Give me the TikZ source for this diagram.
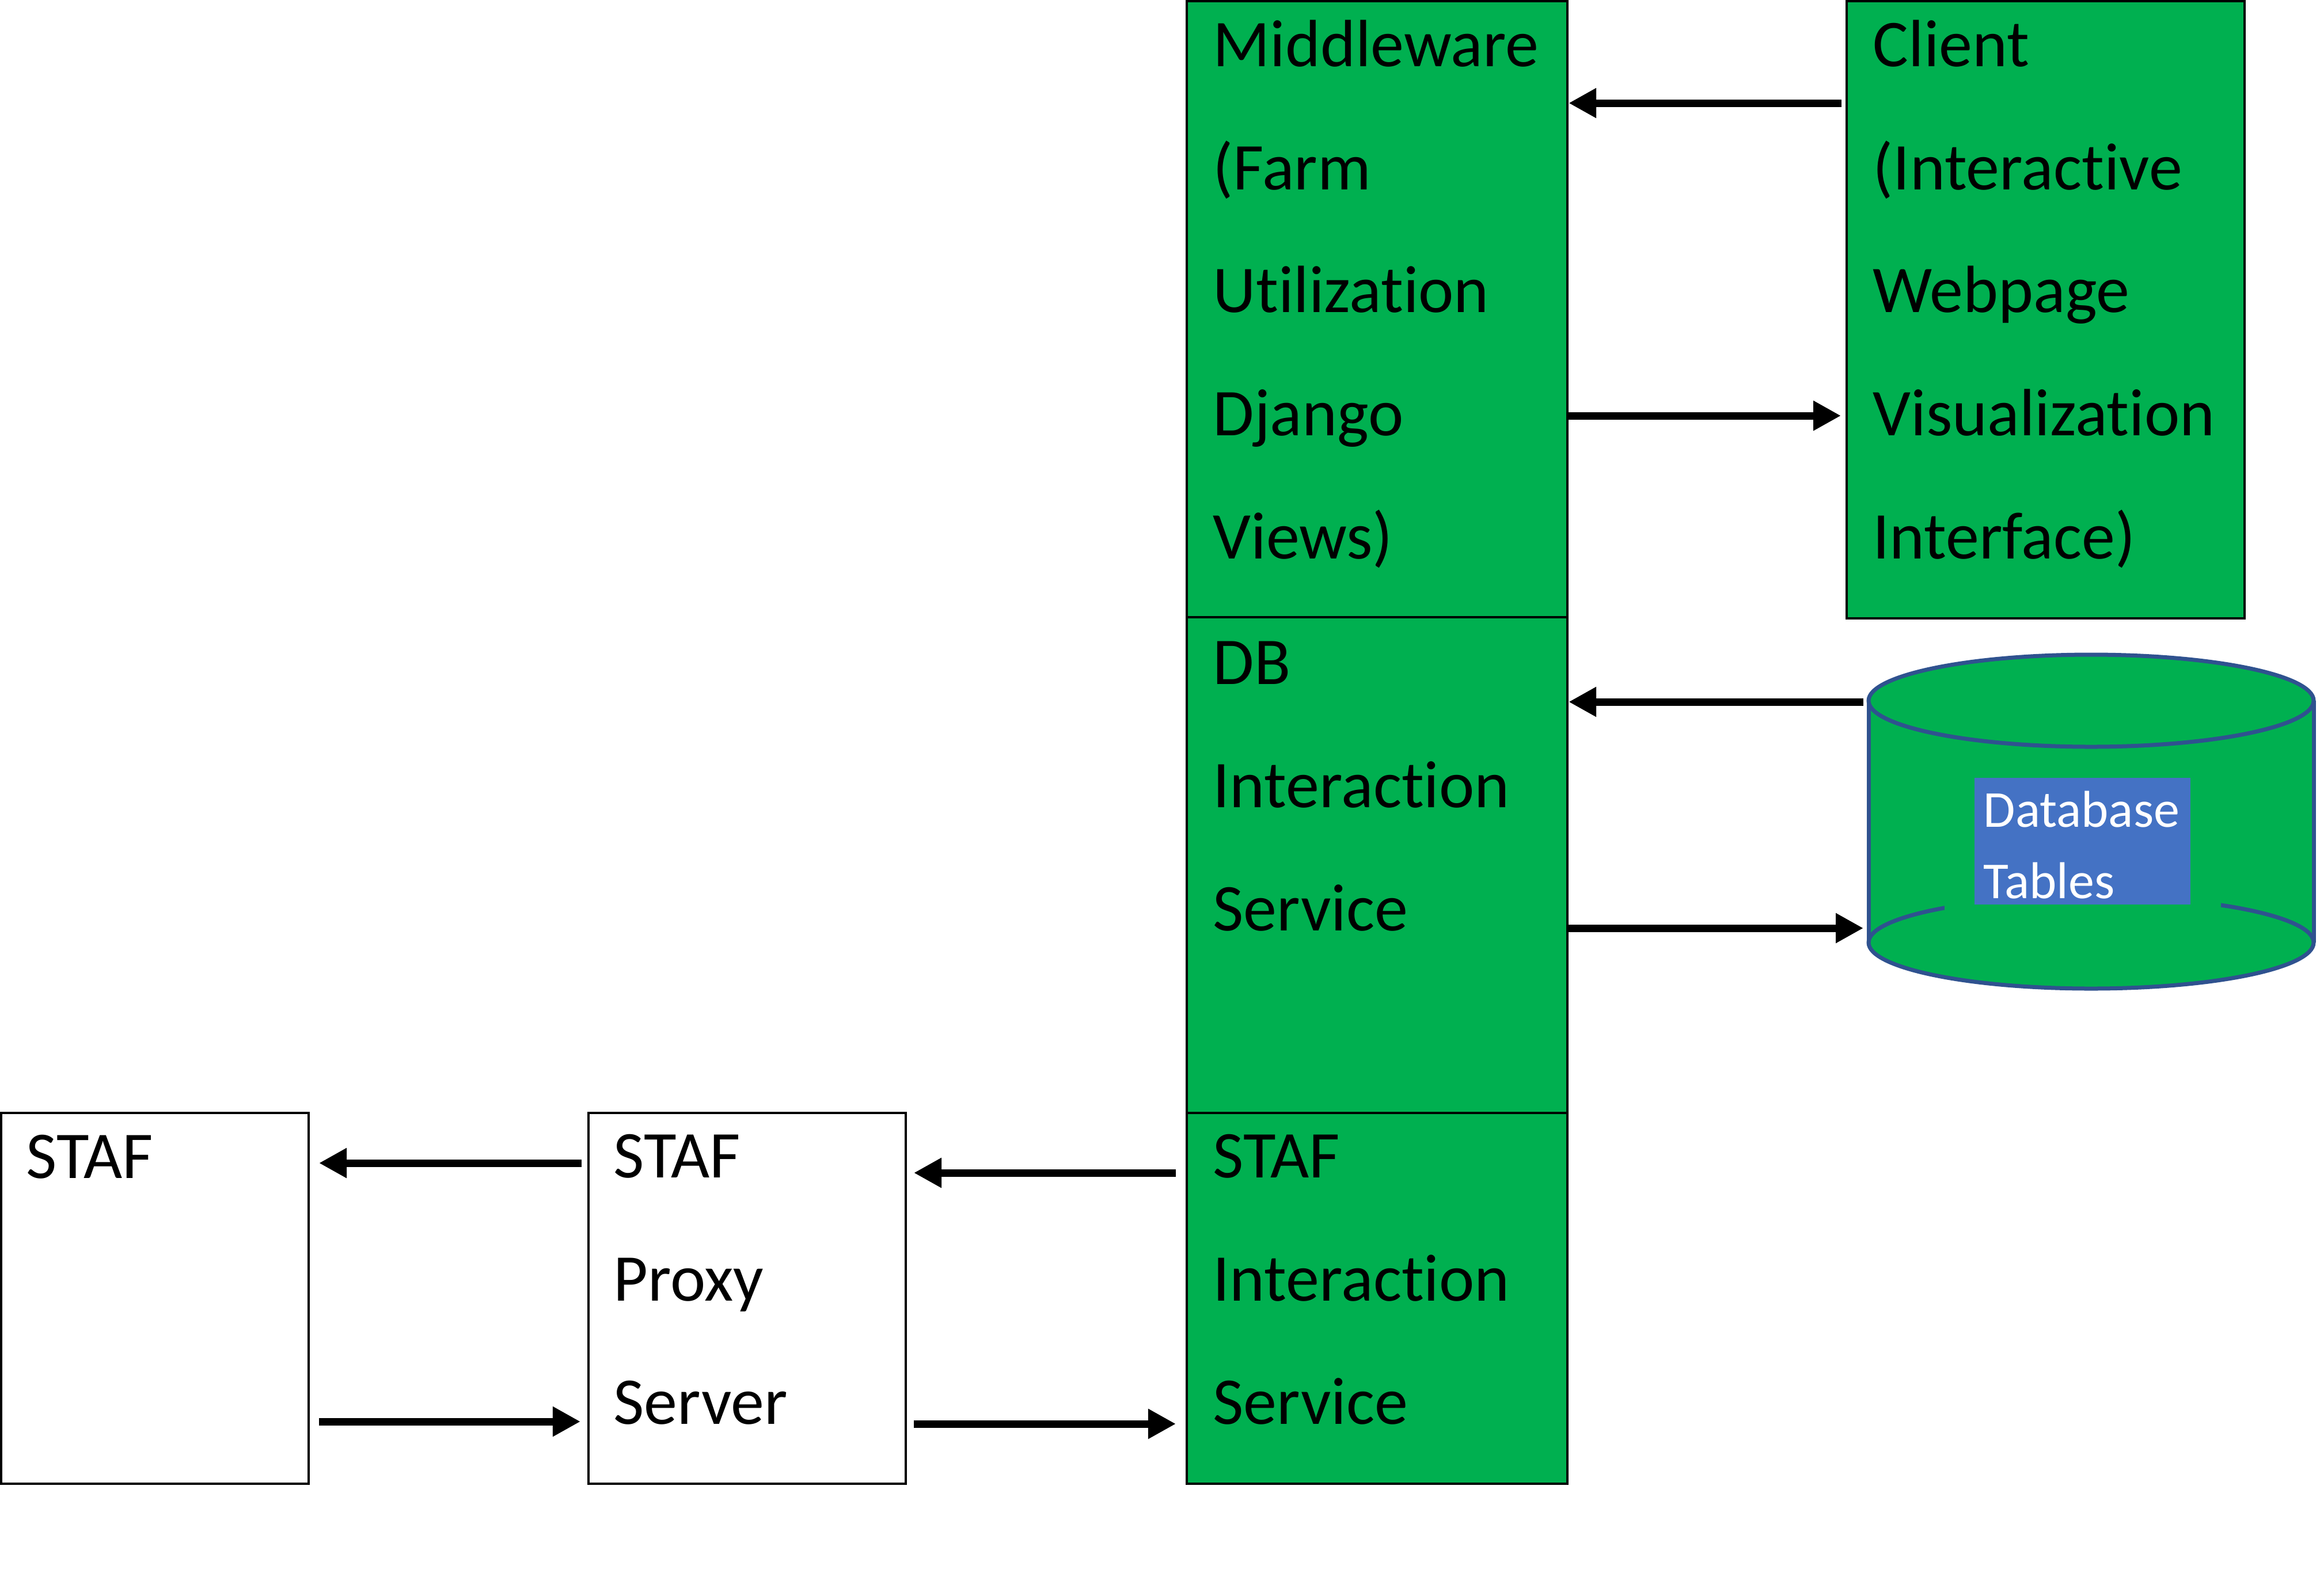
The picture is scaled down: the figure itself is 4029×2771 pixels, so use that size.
\documentclass[tikz,border=0pt]{standalone}
\usepackage{fontspec}
\setmainfont{Carlito}[Ligatures=NoCommon]
\usetikzlibrary{arrows.meta}
\definecolor{boxgreen}{HTML}{00B050}
\definecolor{lblblue}{HTML}{4472C4}
\definecolor{cylblue}{HTML}{2F528F}
\begin{document}
\begin{tikzpicture}[x=0.01cm,y=-0.01cm,
  gbox/.style={draw=black,line width=0.04cm,fill=boxgreen,inner sep=0pt,rectangle},
  wbox/.style={draw=black,line width=0.04cm,fill=white,inner sep=0pt,rectangle},
  lbl/.style={anchor=base west,inner sep=0pt,align=left,font=\fontsize{33}{60.75}\selectfont},
  dblbl/.style={anchor=base west,inner sep=0pt,align=left,text=white,font=\fontsize{25.6}{35}\selectfont},
  arr/.style={line width=0.13cm,-{Triangle[length=0.48cm,width=0.49cm]}},
  cyl/.style={draw=cylblue,line width=0.07cm}]
\useasboundingbox (0,0) rectangle (4029,2771);
% boxes
\node[gbox,minimum width=6.61cm,minimum height=10.70cm] (mw) at (2391.5,537) {};
\node[gbox,minimum width=6.61cm,minimum height=8.61cm] (db) at (2391.5,1502.5) {};
\node[gbox,minimum width=6.61cm,minimum height=6.44cm] (si) at (2391.5,2255) {};
\node[gbox,minimum width=6.91cm,minimum height=10.72cm] (client) at (3552.5,538) {};
\node[wbox,minimum width=5.34cm,minimum height=6.44cm] (staf) at (269,2255) {};
\node[wbox,minimum width=5.51cm,minimum height=6.44cm] (proxy) at (1297.5,2255) {};
% texts (anchored at the baseline of their last line)
\node[lbl] (mwt) at (2106,970) {Middleware\\(Farm\\Utilization\\Django\\Views)};
\node[lbl] (clt) at (3252,970) {Client\\(Interactive\\Webpage\\Visualization\\Interface)};
\node[lbl] (dbt) at (2106,1616) {DB\\Interaction\\Service};
\node[lbl] (sit) at (2106,2473) {STAF\\Interaction\\Service};
\node[lbl] (staft) at (45,2046) {STAF};
\node[lbl] (prt) at (1065,2473) {STAF\\Proxy\\Server};
% database cylinder
\fill[boxgreen] (3245,1217) rectangle (4018,1637);
\fill[boxgreen] (3631.5,1637) ellipse [x radius=386.5, y radius=80];
\draw[cyl] (3631.5,1637) ellipse [x radius=386.5, y radius=80];
\draw[cyl] (3245,1217) -- (3245,1637) (4018,1217) -- (4018,1637);
\filldraw[cyl,fill=boxgreen] (3631.5,1217) ellipse [x radius=386.5, y radius=80];
\fill[boxgreen] (3377,1340) rectangle (3857,1600);
\node[fill=lblblue,inner sep=0pt,minimum width=3.75cm,minimum height=2.20cm] (tbl) at (3616.5,1461) {};
\node[dblbl] (tblt) at (3444,1560) {Database\\Tables};
\coordinate (cyl1) at (3236,1219);
\coordinate (cyl2) at (3236,1612);
% arrow end points
\coordinate (c1) at (3198,179);
\coordinate (c2) at (3197,722);
\coordinate (s1) at (2042,2037);
\coordinate (s2) at (1587,2037);
\coordinate (s3) at (1587,2473);
\coordinate (s4) at (2042,2473);
\coordinate (p1) at (1010,2020);
\coordinate (p2) at (554,2020);
\coordinate (p3) at (554,2469);
\coordinate (p4) at (1008,2469);
% connectors
\draw[arr] (c1) -- (mw.east |- c1);
\draw[arr] (mw.east |- c2) -- (c2);
\draw[arr] (cyl1) -- (db.east |- cyl1);
\draw[arr] (db.east |- cyl2) -- (cyl2);
\draw[arr] (s1) -- (s2);
\draw[arr] (s3) -- (s4);
\draw[arr] (p1) -- (p2);
\draw[arr] (p3) -- (p4);
\end{tikzpicture}
\end{document}
